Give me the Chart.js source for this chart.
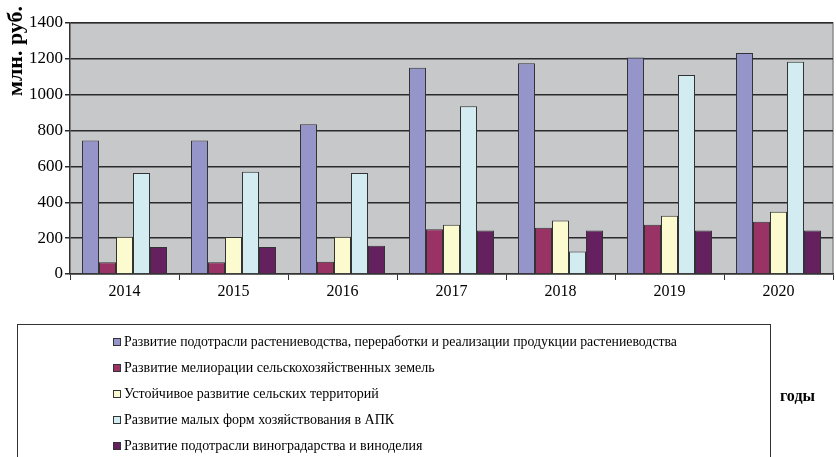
<!DOCTYPE html>
<html>
<head>
<meta charset="utf-8">
<script src="https://cdn.jsdelivr.net/npm/chart.js@4"></script>
<style>
  html, body { margin: 0; padding: 0; background: #fff; }
  #wrap { width: 836px; height: 457px; }
</style>
</head>
<body>
<div id="wrap"><canvas id="chart" width="836" height="457"></canvas></div>
<script>
const years = ["2014", "2015", "2016", "2017", "2018", "2019", "2020"];

const labels = [
  "Развитие подотрасли растениеводства, переработки и реализации продукции растениеводства",
  "Развитие мелиорации сельскохозяйственных земель",
  "Устойчивое развитие сельских территорий",
  "Развитие малых форм хозяйствования в АПК",
  "Развитие подотрасли виноградарства и виноделия",
];

const cropGrowing = [745, 745, 835, 1150, 1175, 1207, 1233];
const melioration = [65, 65, 68, 249, 258, 275, 292];
const ruralAreas = [208, 207, 208, 275, 299, 325, 347];
const smallFarms = [563, 571, 563, 935, 126, 1110, 1184];
const wineGrowing = [150, 150, 158, 242, 242, 242, 242];

const colors = ["#9595C9", "#993366", "#FCFACF", "#D3ECF2", "#652060"];
const serif = "'Liberation Serif', 'Times New Roman', serif";

const series = [cropGrowing, melioration, ruralAreas, smallFarms, wineGrowing];

new Chart(document.getElementById("chart"), {
  type: "bar",
  data: {
    labels: years,
    datasets: series.map((data, i) => ({
      label: labels[i],
      data: data,
      backgroundColor: colors[i],
      borderColor: "#333",
      borderWidth: 1,
      categoryPercentage: 0.78,
      barPercentage: 1.0,
    })),
  },
  options: {
    responsive: false,
    animation: false,
    layout: { padding: { top: 23, right: 3, bottom: 147, left: 0 } },
    plugins: {
      legend: { display: false },
      tooltip: { enabled: false },
    },
    scales: {
      x: {
        afterFit(s) { s.height = 36; },
        grid: { drawOnChartArea: false, drawTicks: true, tickLength: 6, color: "#333" },
        border: { color: "#333", width: 1.5 },
        ticks: { color: "#000", font: { family: serif, size: 16 }, padding: 2 },
      },
      y: {
        min: 0,
        max: 1400,
        afterFit(s) { s.width = 70; },
        grid: { color: "#2a2a2a", lineWidth: 1.5, tickLength: 5 },
        border: { color: "#333", width: 1.5 },
        ticks: {
          stepSize: 200,
          color: "#000",
          font: { family: serif, size: 17 },
          padding: 2,
          callback: (v) => String(v), // без разделителя тысяч
        },
      },
    },
  },
  plugins: [
    {
      id: "plotBack",
      beforeDraw(chart) {
        const { ctx, chartArea: a } = chart;
        ctx.save();
        ctx.fillStyle = "#C7C8CA";
        ctx.fillRect(a.left, a.top, a.right - a.left, a.bottom - a.top);
        ctx.strokeStyle = "#8c8c8c";
        ctx.lineWidth = 1.5;
        ctx.beginPath();
        ctx.moveTo(a.left, a.top);
        ctx.lineTo(a.right, a.top);
        ctx.lineTo(a.right, a.bottom);
        ctx.stroke();
        ctx.restore();
      },
    },
    {
      id: "extras",
      afterDraw(chart) {
        const ctx = chart.ctx;
        ctx.save();
        // подпись оси Y
        ctx.translate(16, 51);
        ctx.rotate(-Math.PI / 2);
        ctx.font = "bold 22px " + serif;
        ctx.fillStyle = "#000";
        ctx.textAlign = "center";
        ctx.textBaseline = "middle";
        ctx.fillText("млн. руб.", 0, 0);
        ctx.restore();

        ctx.save();
        ctx.font = "bold 16px " + serif;
        ctx.fillStyle = "#000";
        ctx.textBaseline = "middle";
        ctx.fillText("годы", 780, 397);

        // легенда в рамке
        ctx.strokeStyle = "#333";
        ctx.lineWidth = 1;
        ctx.strokeRect(17.5, 324.5, 753, 140);
        ctx.font = "14px " + serif;
        chart.data.datasets.forEach((ds, i) => {
          const y = 342 + i * 26;
          ctx.fillStyle = ds.backgroundColor;
          ctx.fillRect(113, y - 4, 8, 8);
          ctx.strokeStyle = "#333";
          ctx.strokeRect(113.5, y - 3.5, 7, 7);
          ctx.fillStyle = "#000";
          ctx.fillText(ds.label, 124, y, 553);
        });
        ctx.restore();
      },
    },
  ],
});
</script>
</body>
</html>
